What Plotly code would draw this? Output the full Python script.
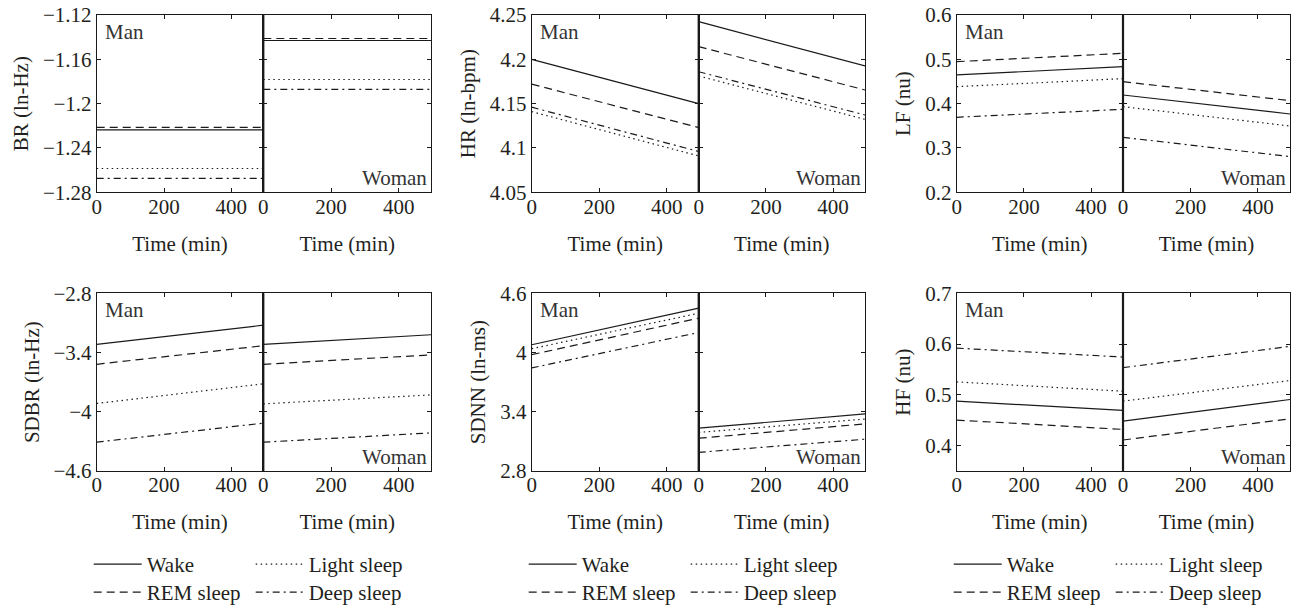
import plotly.graph_objects as go

# ---------------- data ----------------
time_min = [0, 495]
stages = ["Wake", "REM sleep", "Light sleep", "Deep sleep"]

# each row: [value at t=0, value at end] for Wake, REM, Light, Deep
br_man = [[-1.2237, -1.2237], [-1.2215, -1.2215], [-1.2585, -1.2585], [-1.2675, -1.2675]]
br_woman = [[-1.1430, -1.1430], [-1.1412, -1.1412], [-1.1782, -1.1782], [-1.1872, -1.1872]]

hr_man = [[4.200, 4.150], [4.172, 4.123], [4.141, 4.091], [4.146, 4.096]]
hr_woman = [[4.2425, 4.1925], [4.2143, 4.1654], [4.1812, 4.1323], [4.1860, 4.1372]]

lf_man = [[0.4647, 0.4835], [0.4947, 0.5135], [0.4383, 0.4564], [0.3692, 0.3872]]
lf_woman = [[0.4195, 0.3767], [0.4496, 0.4068], [0.3932, 0.3496], [0.3241, 0.2805]]

sdbr_man = [[-3.318, -3.123], [-3.519, -3.331], [-3.916, -3.717], [-4.308, -4.115]]
sdbr_woman = [[-3.318, -3.220], [-3.519, -3.424], [-3.920, -3.829], [-4.308, -4.214]]

sdnn_man = [[4.079, 4.449], [3.978, 4.348], [4.039, 4.398], [3.844, 4.203]]
sdnn_woman = [[3.234, 3.378], [3.132, 3.277], [3.191, 3.326], [2.989, 3.122]]

hf_man = [[0.4876, 0.4693], [0.4503, 0.4320], [0.5255, 0.5072], [0.5920, 0.5745]]
hf_woman = [[0.4484, 0.4908], [0.4111, 0.4529], [0.4876, 0.5282], [0.5536, 0.5954]]

y_titles = ["BR (ln-Hz)", "HR (ln-bpm)", "LF (nu)", "SDBR (ln-Hz)", "SDNN (ln-ms)", "HF (nu)"]
y_ranges = [[-1.28, -1.12], [4.05, 4.25], [0.2, 0.6], [-4.6, -2.8], [2.8, 4.6], [0.35, 0.7]]
y_tickvals = [[-1.28, -1.24, -1.2, -1.16, -1.12], [4.05, 4.1, 4.15, 4.2, 4.25],
              [0.2, 0.3, 0.4, 0.5, 0.6], [-4.6, -4, -3.4, -2.8], [2.8, 3.4, 4, 4.6],
              [0.4, 0.5, 0.6, 0.7]]
y_ticktext = [["\u22121.28", "\u22121.24", "\u22121.2", "\u22121.16", "\u22121.12"],
              ["4.05", "4.1", "4.15", "4.2", "4.25"],
              ["0.2", "0.3", "0.4", "0.5", "0.6"],
              ["\u22124.6", "\u22124", "\u22123.4", "\u22122.8"],
              ["2.8", "3.4", "4", "4.6"],
              ["0.4", "0.5", "0.6", "0.7"]]
x_tickvals = [0, 200, 400]
x_ticktext = ["0", "200", "400"]
x_title = "Time (min)"

panels = [(br_man, br_woman), (hr_man, hr_woman), (lf_man, lf_woman),
          (sdbr_man, sdbr_woman), (sdnn_man, sdnn_woman), (hf_man, hf_woman)]

# ---------------- styling ----------------
W, H = 1294, 606
FONT = "Liberation Serif"
FS = 21
TXT = "#231f20"
LINE = "#1a1a1a"
dashes = ["solid", "8px,5px", "1.5px,3.5px", "7px,4px,2px,4px"]

col_px = [(96.7, 263.3, 431.0), (531.7, 698.7, 865.0), (956.7, 1123.0, 1290.0)]
row_px = [(15.0, 192.3), (293.3, 471.0)]

fig = go.Figure()
layout = {}

for p, (man, woman) in enumerate(panels):
    r, c = divmod(p, 3)
    x0, xm, x1 = col_px[c]
    top, bot = row_px[r]
    ydom = [1 - bot / H, 1 - top / H]
    for g, data in enumerate((man, woman)):
        k = p * 2 + g + 1
        xa = "xaxis" if k == 1 else f"xaxis{k}"
        ya = "yaxis" if k == 1 else f"yaxis{k}"
        xref = "x" if k == 1 else f"x{k}"
        yref = "y" if k == 1 else f"y{k}"
        xdom = [x0 / W, xm / W] if g == 0 else [xm / W, x1 / W]
        for s, stage in enumerate(stages):
            show = (r == 1 and g == 0)
            leg = None
            if show:
                li = c * 2 + (1 if stage in ("Wake", "Light sleep") else 2)
                leg = "legend" if li == 1 else f"legend{li}"
            fig.add_trace(go.Scatter(
                x=time_min, y=data[s], mode="lines", name=stage,
                line=dict(color=LINE, width=1.2, dash=dashes[s]),
                xaxis=xref, yaxis=yref, showlegend=show,
                legend=leg if show else None, hoverinfo="skip"))
        layout[xa] = dict(
            domain=xdom, anchor=yref, range=[0, 495], tickvals=x_tickvals, ticktext=x_ticktext,
            ticks="inside", ticklen=4, tickcolor=LINE, showline=True, linecolor=LINE,
            linewidth=1, mirror="ticks", showgrid=False, zeroline=False,
            ticklabelstandoff=-5,
            tickfont=dict(family=FONT, size=FS, color=TXT),
            title=dict(text=x_title, font=dict(family=FONT, size=FS, color=TXT), standoff=18),
            fixedrange=True)
        layout[ya] = dict(
            domain=ydom, anchor=xref, range=y_ranges[p], tickvals=y_tickvals[p],
            ticktext=y_ticktext[p], showticklabels=(g == 0),
            ticks="inside", ticklen=4, tickcolor=LINE, showline=True, linecolor=LINE,
            linewidth=1, mirror="ticks", showgrid=False, zeroline=False,
            tickfont=dict(family=FONT, size=FS, color=TXT),
            title=dict(text=y_titles[p] if g == 0 else "",
                       font=dict(family=FONT, size=FS, color=TXT), standoff=8),
            fixedrange=True)

annotations = []
shapes = []
for p in range(6):
    k_man = p * 2 + 1
    k_w = p * 2 + 2
    xr_m = "x" if k_man == 1 else f"x{k_man}"
    yr_m = "y" if k_man == 1 else f"y{k_man}"
    annotations.append(dict(text="Man", xref=f"{xr_m} domain", yref=f"{yr_m} domain",
                            x=0.04, y=0.985, xanchor="left", yanchor="top", showarrow=False,
                            font=dict(family=FONT, size=FS, color="#333")))
    annotations.append(dict(text="Woman", xref=f"x{k_w} domain", yref=f"y{k_w} domain",
                            x=0.99, y=0.0, xanchor="right", yanchor="bottom", showarrow=False,
                            font=dict(family=FONT, size=FS, color="#333")))
    shapes.append(dict(type="line", xref=f"x{k_w} domain", yref=f"y{k_w} domain",
                       x0=0, x1=0, y0=0, y1=1, line=dict(color=LINE, width=2.2)))

legend_bottom_px = [585, 613]
for c in range(3):
    for j in range(2):
        li = c * 2 + 1 + j
        name = "legend" if li == 1 else f"legend{li}"
        layout[name] = dict(
            orientation="h", x=(col_px[c][0] - 8) / W, xanchor="left",
            y=1 - legend_bottom_px[j] / H, yanchor="bottom",
            entrywidth=99, entrywidthmode="pixels", itemwidth=48,
            bgcolor="rgba(0,0,0,0)",
            font=dict(family=FONT, size=FS, color=TXT), tracegroupgap=0,
            itemclick=False, itemdoubleclick=False)

fig.update_layout(
    width=W, height=H, margin=dict(l=0, r=0, t=0, b=0, autoexpand=False),
    paper_bgcolor="white", plot_bgcolor="white",
    annotations=annotations, shapes=shapes, **layout)

fig.write_html("out.html", post_script="document.body.style.margin='0';",
               config={"displayModeBar": False})
